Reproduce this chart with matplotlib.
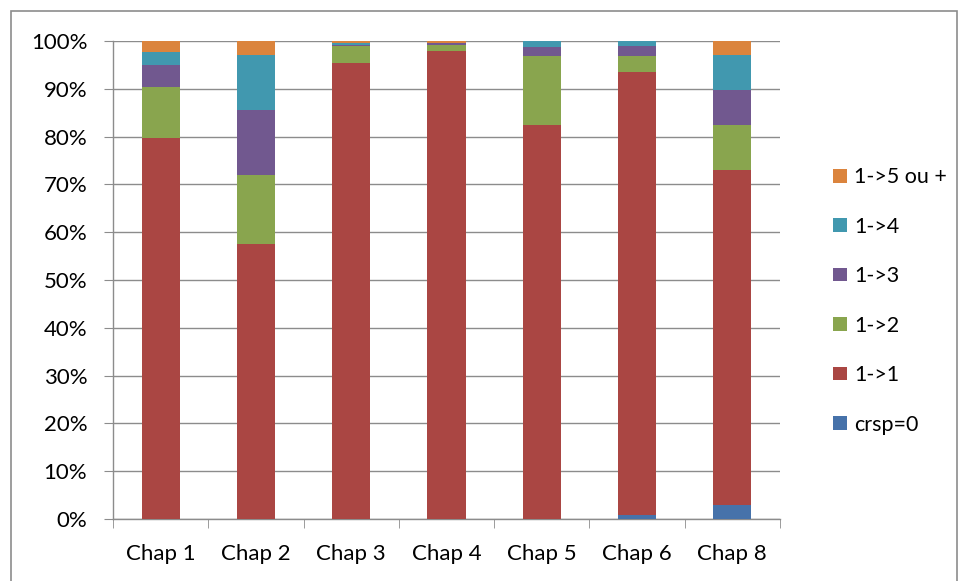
import matplotlib
matplotlib.use("Agg")
import matplotlib.pyplot as plt
from matplotlib.patches import Rectangle
from matplotlib.ticker import MultipleLocator, FuncFormatter

categories = ["Chap 1", "Chap 2", "Chap 3", "Chap 4", "Chap 5", "Chap 6", "Chap 8"]
crsp0 = [0.0, 0.0, 0.0, 0.0, 0.0, 0.8, 3.0]
one_one = [79.7, 57.6, 95.3, 97.9, 82.5, 92.8, 70.0]
one_two = [10.6, 14.4, 3.7, 1.3, 14.3, 3.2, 9.4]
one_three = [4.6, 13.6, 0.2, 0.3, 1.9, 2.2, 7.3]
one_four = [2.7, 11.5, 0.3, 0.0, 1.3, 1.0, 7.3]
one_five = [2.4, 2.9, 0.5, 0.5, 0.0, 0.0, 3.0]

series = [
    ("crsp=0", crsp0, "#4672AA"),
    ("1->1", one_one, "#AA4643"),
    ("1->2", one_two, "#89A54E"),
    ("1->3", one_three, "#71588F"),
    ("1->4", one_four, "#4198AF"),
    ("1->5 ou +", one_five, "#DB843D"),
]

plt.rcParams['font.family'] = ['Lato', 'DejaVu Sans']

fig = plt.figure(figsize=(9.6, 5.81), dpi=100)
W, H = 960, 581
ax = fig.add_axes([113 / W, 1 - 519 / H, (780 - 113) / W, (519 - 41) / H])

x = list(range(len(categories)))
bottom = [0.0] * len(categories)
handles = []
for name, vals, col in series:
    b = ax.bar(x, vals, bottom=bottom, width=0.4, color=col, label=name,
               edgecolor="none", zorder=3)
    handles.append(b)
    bottom = [bb + v for bb, v in zip(bottom, vals)]

ax.set_xlim(-0.5, len(categories) - 0.5)
ax.set_ylim(0, 100)
ax.yaxis.set_major_locator(MultipleLocator(10))
ax.yaxis.set_major_formatter(FuncFormatter(lambda v, p: f"{int(round(v))}%"))
ax.grid(axis="y", color="#8C8C8C", linewidth=1, zorder=0)
ax.set_axisbelow(True)

for s in ["top", "right"]:
    ax.spines[s].set_visible(False)
for s in ["left", "bottom"]:
    ax.spines[s].set_color("#8C8C8C")
    ax.spines[s].set_linewidth(1)

ax.set_xticks(x)
ax.set_xticklabels(categories)
ax.tick_params(axis="x", length=0, labelsize=16, pad=18, colors="#000000")
ax.set_xticks([i - 0.5 for i in range(len(categories) + 1)], minor=True)
ax.tick_params(axis="x", which="minor", length=6.5, color="#8C8C8C")
ax.tick_params(axis="y", length=6.5, color="#8C8C8C", labelsize=16, pad=12)

leg = ax.legend(handles[::-1], [s[0] for s in series][::-1],
                loc="center left", bbox_to_anchor=(814 / W, 1 - 301 / H),
                bbox_transform=fig.transFigure, frameon=False,
                fontsize=15.5, handlelength=0.62, handleheight=0.6,
                labelspacing=1.37, handletextpad=0.35)

fig.patches.append(Rectangle((11 / W, -0.01), (957 - 11) / W, 1 - 11 / H + 0.01,
                             transform=fig.transFigure, fill=False,
                             edgecolor="#8C8C8C", linewidth=1.2))

fig.savefig("out.png", dpi=100)
